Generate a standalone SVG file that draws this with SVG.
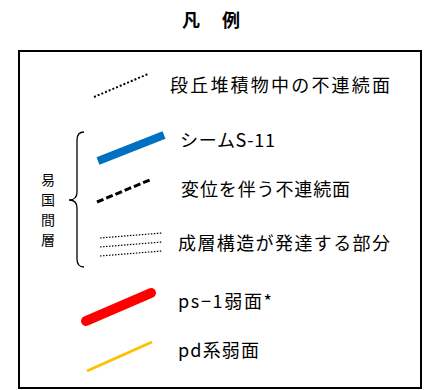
<svg xmlns="http://www.w3.org/2000/svg" width="427" height="390" viewBox="0 0 427 390">
<style>
.t{font-family:"Noto Sans CJK JP","Liberation Sans",sans-serif;font-size:18px;fill:#000}
.v{font-family:"Noto Sans CJK JP","Liberation Sans",sans-serif;font-size:14px;fill:#000;text-anchor:middle}
</style>
<rect x="0" y="0" width="427" height="390" fill="#fff"/>
<g id="title"><text class="t" x="182" y="27" font-weight="bold" textLength="58" lengthAdjust="spacing">凡 例</text></g>
<rect id="frame" x="19" y="51" width="402" height="337" fill="none" stroke="#000" stroke-width="2"/>
<g id="connectors">
  <line x1="94" y1="97" x2="148" y2="74" stroke="#000" stroke-width="2" stroke-dasharray="2 2"/>
  <line x1="98" y1="161" x2="164" y2="135" stroke="#0070C0" stroke-width="8"/>
  <line x1="97" y1="202" x2="152" y2="179" stroke="#000" stroke-width="3" stroke-dasharray="7 3"/>
  <line x1="100" y1="238" x2="162" y2="233" stroke="#000" stroke-width="1.2" stroke-dasharray="1.5 1.5"/>
  <line x1="100" y1="247" x2="162" y2="242" stroke="#000" stroke-width="1.2" stroke-dasharray="1.5 1.5"/>
  <line x1="100" y1="256" x2="162" y2="251" stroke="#000" stroke-width="1.2" stroke-dasharray="1.5 1.5"/>
  <line x1="86" y1="321" x2="151" y2="293" stroke="#FF0000" stroke-width="10" stroke-linecap="round"/>
  <line x1="87" y1="371" x2="152" y2="342" stroke="#FFC000" stroke-width="3"/>
  <path d="M84,132 Q77,132 77,140 L77,192 Q77,200 69,200 Q77,200 77,208 L77,259 Q77,267 84,267" fill="none" stroke="#000" stroke-width="1.3"/>
</g>
<g id="group-label">
  <text class="v" x="48" y="185">易</text>
  <text class="v" x="48" y="205">国</text>
  <text class="v" x="48" y="225">間</text>
  <text class="v" x="48" y="245">層</text>
</g>
<g id="item1"><text class="t" x="170" y="92" textLength="220" lengthAdjust="spacing">段丘堆積物中の不連続面</text></g>
<g id="item2"><text class="t" x="180" y="147" textLength="95" lengthAdjust="spacing">シームS-11</text></g>
<g id="item3"><text class="t" x="181" y="196" textLength="169" lengthAdjust="spacing">変位を伴う不連続面</text></g>
<g id="item4"><text class="t" x="178" y="250" textLength="212" lengthAdjust="spacing">成層構造が発達する部分</text></g>
<g id="item5"><text class="t" x="178" y="308" textLength="94" lengthAdjust="spacing">ps−1弱面*</text></g>
<g id="item6"><text class="t" x="178" y="357" textLength="81" lengthAdjust="spacing">pd系弱面</text></g>
</svg>
